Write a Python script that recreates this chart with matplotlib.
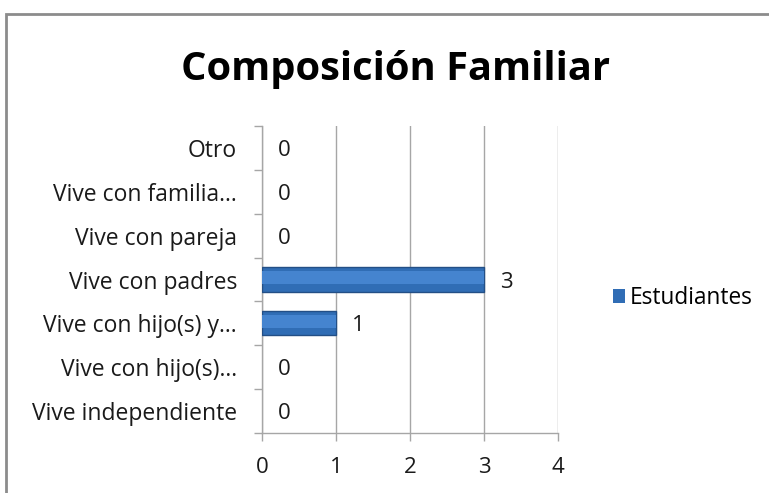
import matplotlib
matplotlib.use("Agg")
import matplotlib.pyplot as plt
from matplotlib.patches import Rectangle

categories = ["Vive independiente", "Vive con hijo(s)...", "Vive con hijo(s) y...",
              "Vive con padres", "Vive con pareja", "Vive con familia...", "Otro"]
values = [0, 0, 1, 3, 0, 0, 0]
series_name = "Estudiantes"
xticks = [0, 1, 2, 3, 4]
title = "Composición Familiar"

plt.rcParams['font.family'] = ['Open Sans', 'DejaVu Sans']

fig = plt.figure(figsize=(7.69, 4.93), dpi=100)
ax = fig.add_axes([0.3407, 0.1217, 0.3849, 0.6227])

grid_c = '#a6a6a6'
txt_c = '#1a1a1a'
ypos = list(range(len(categories)))
bars = ax.barh(ypos, values, height=0.55, color='#306db5',
               edgecolor=['#234f86' if v > 0 else 'none' for v in values],
               linewidth=1.0, label=series_name, zorder=3)
# lighter highlight band for the glossy look
ax.barh([y + 0.04 for y in ypos], values, height=0.3, color='#4584cf',
        linewidth=0, zorder=4)

for y, v in zip(ypos, values):
    ax.annotate(str(v), xy=(v, y), xytext=(16, 0), textcoords='offset points',
                ha='center', va='center_baseline', fontsize=16, color=txt_c)

ax.set_xlim(0, 4)
ax.set_ylim(-0.5, len(categories) - 0.5)
ax.set_xticks(xticks)
ax.set_xticklabels([str(t) for t in xticks], fontsize=16, color=txt_c)
ax.set_yticks(ypos)
ax.set_yticklabels(categories, fontsize=16.5, color=txt_c)
ax.tick_params(axis='y', length=0, pad=18)
ax.set_yticks([i - 0.5 for i in range(len(categories) + 1)], minor=True)
ax.tick_params(axis='y', which='minor', length=6, color=grid_c, width=1)
ax.tick_params(axis='x', length=6, color=grid_c, width=1, pad=11)

ax.xaxis.grid(True, color=grid_c, linewidth=1, zorder=0)
ax.set_axisbelow(True)
for s in ['top', 'right']:
    ax.spines[s].set_visible(False)
for s in ['left', 'bottom']:
    ax.spines[s].set_color(grid_c)
    ax.spines[s].set_linewidth(1)

fig.text(0.514, 0.86, title, ha='center', va='center', fontsize=28.7,
         fontweight='bold', color='#000000')

leg = fig.legend(handles=[bars], labels=[series_name], loc='center left',
                 bbox_to_anchor=(0.797, 0.395), frameon=False, fontsize=16.3,
                 handlelength=0.55, handleheight=0.55, handletextpad=0.2,
                 borderaxespad=0, borderpad=0)

fig.patches.append(Rectangle((6 / 769, -0.1), 1.2, 1.1 - 14 / 493, transform=fig.transFigure,
                             fill=False, edgecolor='#8c8c8c', linewidth=2))

fig.savefig("out.png", dpi=100)
